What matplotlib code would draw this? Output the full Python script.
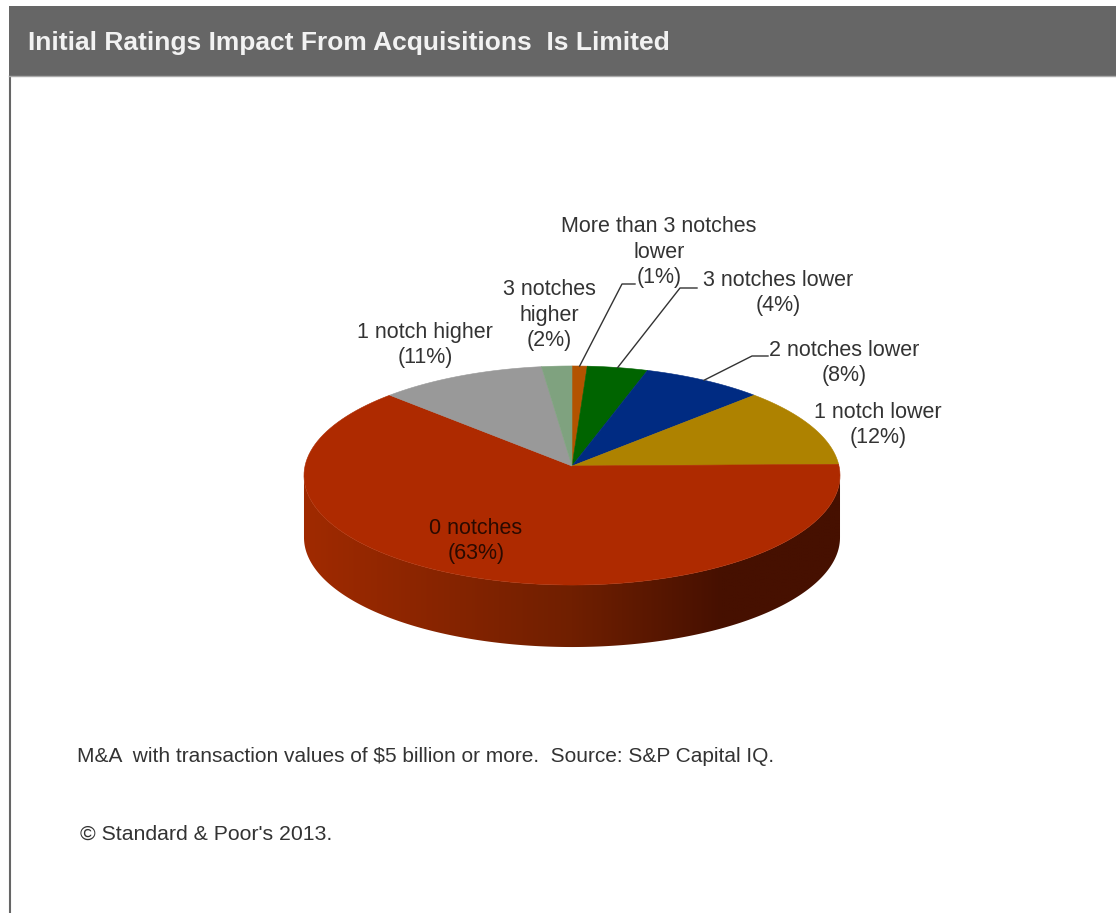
import numpy as np
import matplotlib
matplotlib.use("Agg")
import matplotlib.pyplot as plt
from matplotlib.patches import Polygon, Rectangle
from matplotlib.colors import LinearSegmentedColormap

plt.rcParams['font.family'] = ['Liberation Sans', 'DejaVu Sans']

title = "Initial Ratings Impact From Acquisitions  Is Limited"
categories = ["More than 3 notches\nlower", "3 notches lower", "2 notches lower", "1 notch lower",
              "0 notches", "1 notch higher", "3 notches\nhigher"]
values = [1, 4, 8, 12, 63, 11, 2]
colors = ["#b35300", "#006400", "#002b82", "#ae8200", "#ae2a00", "#999999", "#7fa27f"]
notes = ["M&A  with transaction values of $5 billion or more.  Source: S&P Capital IQ.",
         "\u00a9 Standard & Poor's 2013."]

# where each label is centred, and the elbow of its leader line (None = no leader)
label_pos = [(659, 252), (778, 293), (844, 363), (878, 425), (476, 541), (425, 345), (549, 315)]
elbows = [[(622, 284), (635, 284)], [(680, 288), (697, 288)], [(752, 356), (768, 356)],
          None, None, None, None]
line_gap = 25.2

# pie geometry, tilted with a little perspective
cx, cy = 572, 466
rx, ry = 267, 108.7
tilt = 0.0868
depth = 62


def project(theta):
    # theta runs clockwise from twelve o'clock
    u, v = np.sin(theta), np.cos(theta)
    w = 1 + tilt * v
    return cx + rx * u / w, cy - ry * v / w


fig = plt.figure(figsize=(11.16, 9.13), dpi=100)
ax = fig.add_axes([0, 0, 1, 1])
ax.set_xlim(0, 1116)
ax.set_ylim(913, 0)
ax.axis("off")

# header band and frame
ax.add_patch(Rectangle((9, 6), 1107, 70, fc="#666666", ec="none"))
ax.plot([9.5, 9.5], [76, 913], color="#666666", lw=1.5)
ax.plot([9, 1116], [76.5, 76.5], color="#aaaaaa", lw=1)
ax.text(28, 43, title, color="#f2f2f2", fontsize=19, fontweight="bold", va="center", ha="left")

# side wall: shaded left to right, clipped to the band under the front rim
widest = np.arccos(-tilt)
t = np.linspace(widest, 2 * np.pi - widest, 300)
rim_x, rim_y = project(t)
wall_pts = np.vstack([np.column_stack([rim_x, rim_y]),
                      np.column_stack([rim_x[::-1], rim_y[::-1] + depth])])
wall = Polygon(wall_pts, fc="none", ec="none")
ax.add_patch(wall)
shade = LinearSegmentedColormap.from_list("wall", [(0, "#a02a00"), (0.5, "#701f00"), (0.78, "#461000"), (1, "#461000")])
stops = np.linspace(0, 1, 256).reshape(1, -1)
img = ax.imshow(stops, cmap=shade, extent=(303, 841, 660, 460), aspect="auto", interpolation="bilinear")
img.set_clip_path(wall)
ax.set_xlim(0, 1116)
ax.set_ylim(913, 0)

# slices, clockwise from the top
fractions = np.array(values) / sum(values)
edges = np.concatenate([[0], np.cumsum(fractions)]) * 2 * np.pi
for i in range(len(values)):
    arc = np.linspace(edges[i], edges[i + 1], 120)
    x, y = project(arc)
    pts = np.vstack([[cx, cy], np.column_stack([x, y])])
    ax.add_patch(Polygon(pts, fc=colors[i], ec=colors[i], lw=0.4))

# labels, one text per line, and leaders
for i in range(len(values)):
    color = "#2a0a00" if categories[i] == "0 notches" else "#333333"
    lines = categories[i].split("\n") + ["(%d%%)" % values[i]]
    top = label_pos[i][1] - line_gap * (len(lines) - 1) / 2
    for j, line in enumerate(lines):
        ax.text(label_pos[i][0], top + j * line_gap, line, ha="center", va="center", fontsize=15.5, color=color)
    if elbows[i] is not None:
        sx, sy = project((edges[i] + edges[i + 1]) / 2)
        ax.plot([sx] + [p[0] for p in elbows[i]], [sy] + [p[1] for p in elbows[i]], color="#333333", lw=1)

ax.text(77, 756, notes[0], fontsize=15, color="#333333", va="center", ha="left")
ax.text(80, 834, notes[1], fontsize=15.3, color="#333333", va="center", ha="left")

fig.savefig("out.png", dpi=100)
